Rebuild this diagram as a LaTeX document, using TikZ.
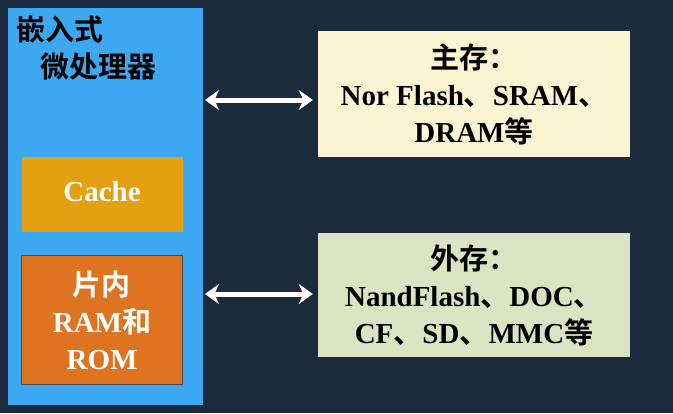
\documentclass[tikz,border=0pt]{standalone}
\usepackage{fontspec}
\setmainfont{Liberation Serif}
\newfontfamily\cjk{Noto Sans CJK SC}[BoldFont={* Bold}]
\usetikzlibrary{positioning,arrows.meta}
\definecolor{bgnavy}{HTML}{1C2B3B}
\definecolor{cpublue}{HTML}{3DA8F2}
\definecolor{cacheor}{HTML}{E2A012}
\definecolor{ramor}{HTML}{DF7420}
\definecolor{mainyel}{HTML}{FCF4D2}
\definecolor{extgrn}{HTML}{D9E4C2}
\tikzset{
	txt/.style={font=\fontsize{29}{37}\selectfont\bfseries, align=center, text=black},
	membox/.style={txt, minimum width=312pt, minimum height=126pt},
	duplex/.style={white, line width=5pt, <->, >={Stealth[length=14pt,width=20pt]}}
}
\begin{document}
\begin{tikzpicture}[x=1pt, y=-1pt]
	\fill[bgnavy] (0,0) rectangle (673,413);
	\useasboundingbox (0,0) rectangle (673,413);
	% processor
	\fill[cpublue] (8,8) rectangle (203,405);
	\node[txt, align=left, anchor=north west, inner sep=0pt] (cpu) at (16,16) {\cjk 嵌入式\\\hspace{0.85em}\cjk 微处理器};
	\node[txt, fill=cacheor, minimum width=161pt, minimum height=75pt, text=white] (cache) at (102,194) {\raisebox{6pt}{Cache}};
	\node[txt, fill=ramor, draw=black!70, minimum width=161pt, minimum height=129pt, text=white] (ram) at (102,320) {{\cjk 片内}\\RAM{\cjk 和}\\ROM};
	% memories
	\node[membox, fill=mainyel] (main) at (474,94) {{\cjk 主存：}\\Nor Flash{\cjk 、}SRAM{\cjk 、}\\DRAM{\cjk 等}};
	\node[membox, fill=extgrn, minimum height=124pt] (ext) at (474,295) {{\cjk 外存：}\\NandFlash{\cjk 、}DOC{\cjk 、}\\CF{\cjk 、}SD{\cjk 、}MMC{\cjk 等}};
	\coordinate (c1) at (205,100);
	\coordinate (c2) at (205,294);
	\draw[duplex] (c1) -- ([xshift=-5pt]main.west |- c1);
	\draw[duplex] (c2) -- ([xshift=-5pt]ext.west |- c2);
\end{tikzpicture}
\end{document}
